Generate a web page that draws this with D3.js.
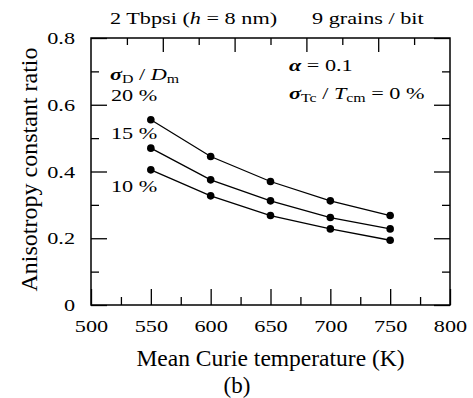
<!DOCTYPE html>
<html>

<head>
  <title>Anisotropy constant ratio</title>
  <script src="https://cdn.jsdelivr.net/npm/d3@7"></script>
  <style type="text/css">
    body {
      margin: 0;
      background: #fff;
    }

    text {
      font-family: "Liberation Serif", "Times New Roman", serif;
      fill: #000;
    }
  </style>
</head>

<body>
  <div id="chartArea"></div>
  <script type="text/javascript">
    // values
    let temps = [550, 600, 650, 700, 750];
    let sd20 = [0.555, 0.445, 0.37, 0.312, 0.268];
    let sd15 = [0.47, 0.375, 0.312, 0.262, 0.228];
    let sd10 = [0.405, 0.327, 0.268, 0.228, 0.194];
    let seriesLabels = ['20 %', '15 %', '10 %'];

    let xTicks = [500, 550, 600, 650, 700, 750, 800];
    let xMinor = [525, 575, 625, 675, 725, 775];
    let yTicks = [0, 0.2, 0.4, 0.6, 0.8];
    let yMinor = [0.1, 0.3, 0.5, 0.7];
    let topTicks = [1, 2, 3, 4, 5, 6, 7, 8, 9];

    let W = 473, H = 398;
    let SX = 1.27; // the small text in the figure is drawn wide
    let fs = 17.5;

    let x = d3.scaleLinear().domain([500, 800]).range([91, 450]);
    let y = d3.scaleLinear().domain([0, 0.8]).range([305, 38]);
    let xTop = d3.scaleLinear().domain([0, 10]).range([91, 450]);

    let svg = d3.select('#chartArea').append('svg')
      .attr('width', W)
      .attr('height', H);

    // ticks, all pointing inward
    let bottom = svg.append('g').attr('transform', `translate(0, ${y(0)})`)
      .call(d3.axisBottom(x).tickValues(xTicks).tickSize(-16).tickPadding(10).tickSizeOuter(0));
    bottom.selectAll('text')
      .attr('font-size', fs)
      .attr('y', 15)
      .attr('dy', '0.71em')
      .attr('transform', `scale(${SX},1)`);
    svg.append('g').attr('transform', `translate(0, ${y(0)})`)
      .call(d3.axisBottom(x).tickValues(xMinor).tickSize(-8).tickFormat('').tickSizeOuter(0));

    let left = svg.append('g').attr('transform', `translate(${x(500)}, 0)`)
      .call(d3.axisLeft(y).tickValues(yTicks).tickSize(-16).tickPadding(16).tickSizeOuter(0)
        .tickFormat(d => d === 0 ? '0' : d.toFixed(1)));
    left.selectAll('text')
      .attr('font-size', fs)
      .attr('x', -16 / SX)
      .attr('transform', `scale(${SX},1)`);
    svg.append('g').attr('transform', `translate(${x(500)}, 0)`)
      .call(d3.axisLeft(y).tickValues(yMinor).tickSize(-8).tickFormat('').tickSizeOuter(0));

    svg.append('g').attr('transform', `translate(${x(800)}, 0)`)
      .call(d3.axisRight(y).tickValues(yTicks).tickSize(-16).tickFormat('').tickSizeOuter(0));
    svg.append('g').attr('transform', `translate(${x(800)}, 0)`)
      .call(d3.axisRight(y).tickValues(yMinor).tickSize(-8).tickFormat('').tickSizeOuter(0));

    svg.append('g').attr('transform', `translate(0, ${y(0.8)})`)
      .call(d3.axisTop(xTop).tickValues(topTicks.filter(d => d % 2 === 0)).tickSize(-14).tickFormat('').tickSizeOuter(0));
    svg.append('g').attr('transform', `translate(0, ${y(0.8)})`)
      .call(d3.axisTop(xTop).tickValues(topTicks.filter(d => d % 2 === 1)).tickSize(-7).tickFormat('').tickSizeOuter(0));

    svg.selectAll('.domain').remove();
    svg.selectAll('.tick line').attr('stroke', '#000').attr('stroke-width', 1.3);

    svg.append('rect')
      .attr('x', x(500))
      .attr('y', y(0.8))
      .attr('width', x(800) - x(500))
      .attr('height', y(0) - y(0.8))
      .attr('fill', 'none')
      .attr('stroke', '#000')
      .attr('stroke-width', 1.5);

    // series
    let series = [sd20, sd15, sd10];
    let line = d3.line()
      .x((d, i) => x(temps[i]))
      .y(d => y(d));

    svg.selectAll('.series')
      .data(series)
      .enter()
      .append('path')
      .attr('class', 'series')
      .attr('d', line)
      .attr('fill', 'none')
      .attr('stroke', '#000')
      .attr('stroke-width', 1.3);

    series.forEach(s => {
      svg.append('g').selectAll('circle')
        .data(s)
        .enter()
        .append('circle')
        .attr('cx', (d, i) => x(temps[i]))
        .attr('cy', d => y(d))
        .attr('r', 3.8)
        .attr('fill', '#000');
    });

    // wide text helper
    function wideText(tx, ty, size) {
      return svg.append('text')
        .attr('transform', `translate(${tx}, ${ty}) scale(${SX},1)`)
        .attr('font-size', size || fs);
    }

    let t1 = wideText(110, 24);
    t1.append('tspan').text('2 Tbpsi (');
    t1.append('tspan').attr('font-style', 'italic').text('h');
    t1.append('tspan').text(' = 8 nm)');
    wideText(312, 24).text('9 grains / bit');

    // series labels
    let labelY = [101, 139, 192];
    seriesLabels.forEach((s, i) => {
      wideText(111, labelY[i]).text(s);
    });

    let t2 = wideText(110, 80);
    t2.append('tspan').attr('font-style', 'italic').attr('font-weight', 'bold').text('σ');
    t2.append('tspan').attr('font-size', 12.5).attr('dy', 3).text('D');
    t2.append('tspan').attr('dy', -3).text(' / ');
    t2.append('tspan').attr('font-style', 'italic').text('D');
    t2.append('tspan').attr('font-size', 12.5).attr('dy', 3).text('m');

    let t3 = wideText(289, 71);
    t3.append('tspan').attr('font-style', 'italic').attr('font-weight', 'bold').text('α');
    t3.append('tspan').text(' = 0.1');

    let t4 = wideText(289, 99);
    t4.append('tspan').attr('font-style', 'italic').attr('font-weight', 'bold').text('σ');
    t4.append('tspan').attr('font-size', 12.5).attr('dy', 3).text('Tc');
    t4.append('tspan').attr('dy', -3).text(' / ');
    t4.append('tspan').attr('font-style', 'italic').text('T');
    t4.append('tspan').attr('font-size', 12.5).attr('dy', 3).text('cm');
    t4.append('tspan').attr('dy', -3).text(' = 0 %');

    // axis titles
    svg.append('text')
      .attr('x', (x(500) + x(800)) / 2)
      .attr('y', 366)
      .attr('text-anchor', 'middle')
      .attr('font-size', 23.5)
      .text('Mean Curie temperature (K)');

    svg.append('text')
      .attr('transform', `translate(36.5, ${(y(0) + y(0.8)) / 2 - 2}) rotate(-90)`)
      .attr('text-anchor', 'middle')
      .attr('font-size', 24)
      .text('Anisotropy constant ratio');

    svg.append('text')
      .attr('x', 237)
      .attr('y', 393)
      .attr('text-anchor', 'middle')
      .attr('font-size', 23)
      .text('(b)');
  </script>
</body>

</html>
